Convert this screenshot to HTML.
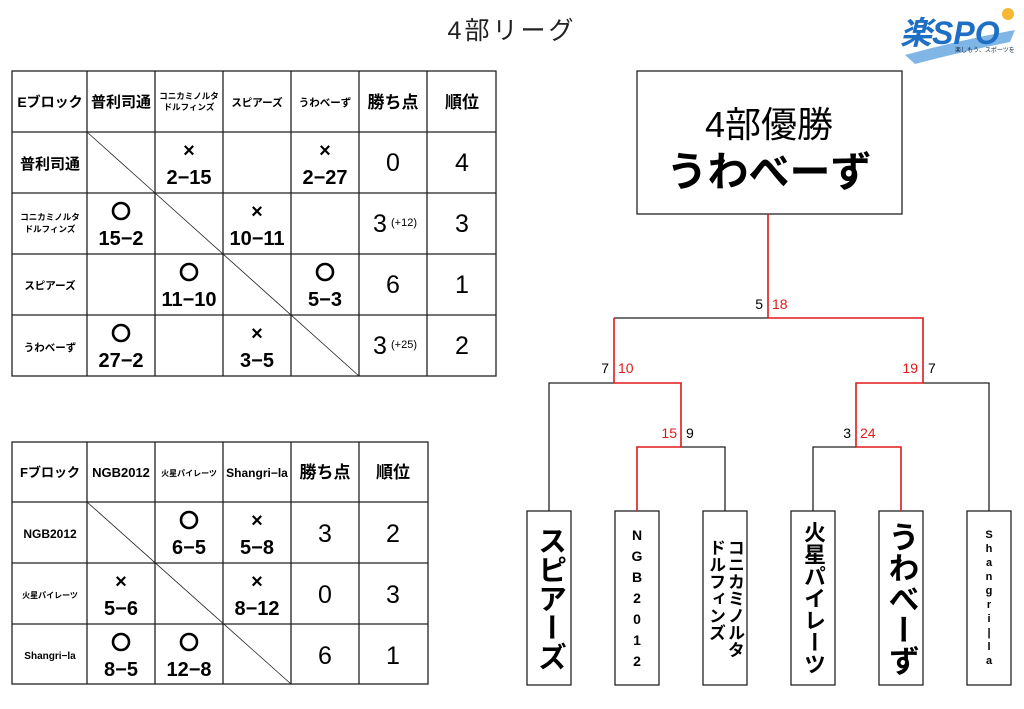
<!DOCTYPE html>
<html><head><meta charset="utf-8"><style>
body{margin:0;background:#fff;width:1024px;height:709px;overflow:hidden;position:relative;font-family:"Liberation Sans","Noto Sans CJK JP",sans-serif;}
.v{position:absolute;writing-mode:vertical-rl;text-orientation:upright;display:flex;align-items:center;justify-content:center;color:#000;white-space:nowrap;line-height:1;}
.c{position:absolute;display:flex;flex-direction:column;align-items:center;justify-content:center;font-weight:bold;color:#000;}
.c span{display:block;}
</style></head><body>
<svg width="1024" height="709" style="position:absolute;left:0;top:0" font-family="Liberation Sans, Noto Sans CJK JP, sans-serif">
<text x="512" y="39" text-anchor="middle" font-size="25" fill="#222" letter-spacing="3">4部リーグ</text>
<!-- logo -->
<path d="M905 55 Q960 40 1015 30 L1010 42 Q960 52 915 64 Z" fill="#7fb6e6"/>
<text x="900" y="44" font-size="32" font-weight="bold" fill="#1f6fc4" font-style="italic">楽SPO</text>
<circle cx="1008" cy="14" r="6" fill="#f6b733"/>
<text x="955" y="52" font-size="6" fill="#123">楽しもう、スポーツを</text>

<g stroke="#222" stroke-width="1.3" fill="none">
<rect x="12" y="71" width="484" height="305"/>
<path d="M87 71V376M155 71V376M223 71V376M291 71V376M359 71V376M427 71V376"/>
<path d="M12 132H496M12 193H496M12 254H496M12 315H496"/>
<path d="M87 132L359 376" stroke-width="0.8"/>
<rect x="12" y="442" width="416" height="242"/>
<path d="M87 442V684M155 442V684M223 442V684M291 442V684M359 442V684"/>
<path d="M12 502H428M12 563H428M12 624H428"/>
<path d="M87 502L291 684" stroke-width="0.8"/>
<rect x="637" y="71" width="265" height="143"/>
<rect x="527" y="511" width="44" height="174"/>
<rect x="615" y="511" width="44" height="174"/>
<rect x="703" y="511" width="44" height="174"/>
<rect x="791" y="511" width="44" height="174"/>
<rect x="879" y="511" width="44" height="174"/>
<rect x="967" y="511" width="44" height="174"/>
<path d="M614 318H768M549 511V383H614M681 447H725V511M813 511V447H856M923 383H989V511"/>
</g>
<g stroke="#000" stroke-width="2.6" fill="none">
<circle cx="121" cy="211" r="8"/><circle cx="189" cy="272" r="8"/><circle cx="325" cy="272" r="8"/><circle cx="121" cy="333" r="8"/>
<circle cx="189" cy="520" r="8"/><circle cx="121" cy="642" r="8"/><circle cx="189" cy="642" r="8"/>
</g>
<g stroke="#e01818" stroke-width="1.6" fill="none">
<path d="M768 214V318H923V383H856V447H901V511"/>
<path d="M614 318V383H681V447H637V511"/>
</g>
<g font-size="14">
<text x="763" y="309" text-anchor="end">5</text><text x="772" y="309" fill="#e01818">18</text>
<text x="609" y="373" text-anchor="end">7</text><text x="618" y="373" fill="#e01818">10</text>
<text x="918" y="373" text-anchor="end" fill="#e01818">19</text><text x="928" y="373">7</text>
<text x="677" y="438" text-anchor="end" fill="#e01818">15</text><text x="686" y="438">9</text>
<text x="851" y="438" text-anchor="end">3</text><text x="860" y="438" fill="#e01818">24</text>
</g>
<text x="769" y="137" text-anchor="middle" font-size="36">4部優勝</text>
<text x="769" y="186" text-anchor="middle" font-size="41" font-weight="bold">うわべーず</text>

<g font-weight="bold" text-anchor="middle">
<text x="50" y="107" font-size="14">Eブロック</text>
<text x="121" y="107" font-size="15">普利司通</text>
<text x="189" y="99" font-size="8.5">コニカミノルタ</text><text x="189" y="110" font-size="8.5">ドルフィンズ</text>
<text x="257" y="106" font-size="10.5">スピアーズ</text>
<text x="325" y="106" font-size="10.5">うわべーず</text>
<text x="393" y="108" font-size="17">勝ち点</text>
<text x="462" y="108" font-size="17">順位</text>
<text x="50" y="169" font-size="15">普利司通</text>
<text x="50" y="220" font-size="8.5">コニカミノルタ</text><text x="50" y="232" font-size="8.5">ドルフィンズ</text>
<text x="50" y="289" font-size="10.5">スピアーズ</text>
<text x="50" y="351" font-size="10.5">うわべーず</text>
<g font-size="20">
<text x="189" y="157">×</text><text x="189" y="184">2−15</text>
<text x="325" y="157">×</text><text x="325" y="184">2−27</text>
<text x="121" y="245">15−2</text>
<text x="257" y="218">×</text><text x="257" y="245">10−11</text>
<text x="189" y="306">11−10</text>
<text x="325" y="306">5−3</text>
<text x="121" y="367">27−2</text>
<text x="257" y="340">×</text><text x="257" y="367">3−5</text>
</g>
</g>
<g font-size="25" text-anchor="middle">
<text x="393" y="171">0</text><text x="462" y="171">4</text>
<text x="380" y="232">3</text><text x="404" y="226" font-size="11">(+12)</text><text x="462" y="232">3</text>
<text x="393" y="293">6</text><text x="462" y="293">1</text>
<text x="380" y="354">3</text><text x="404" y="348" font-size="11">(+25)</text><text x="462" y="354">2</text>
</g>
<g font-weight="bold" text-anchor="middle">
<text x="50" y="477" font-size="13">Fブロック</text>
<text x="121" y="477" font-size="13">NGB2012</text>
<text x="189" y="476" font-size="8">火星パイレーツ</text>
<text x="257" y="477" font-size="12">Shangri−la</text>
<text x="325" y="478" font-size="17">勝ち点</text>
<text x="393" y="478" font-size="17">順位</text>
<text x="50" y="538" font-size="12">NGB2012</text>
<text x="50" y="598" font-size="8">火星パイレーツ</text>
<text x="50" y="659" font-size="10">Shangri−la</text>
<g font-size="20">
<text x="189" y="554">6−5</text>
<text x="257" y="527">×</text><text x="257" y="554">5−8</text>
<text x="121" y="588">×</text><text x="121" y="615">5−6</text>
<text x="257" y="588">×</text><text x="257" y="615">8−12</text>
<text x="121" y="676">8−5</text>
<text x="189" y="676">12−8</text>
</g>
</g>
<g font-size="25" text-anchor="middle">
<text x="325" y="542">3</text><text x="393" y="542">2</text>
<text x="325" y="603">0</text><text x="393" y="603">3</text>
<text x="325" y="664">6</text><text x="393" y="664">1</text>
</g>
</svg>
<div class="v" style="left:527px;top:511px;width:44px;height:174px;font-size:29px;font-weight:bold;">スピアーズ</div>
<div class="c" style="left:615px;top:511px;width:44px;height:174px;font-size:14px;line-height:21px;"><span>N</span><span>G</span><span>B</span><span>2</span><span>0</span><span>1</span><span>2</span></div>
<div class="v" style="left:703px;top:511px;width:44px;height:174px;font-size:17px;font-weight:bold;line-height:19px;white-space:normal;">コニカミノルタ<br>ドルフィンズ</div>
<div class="v" style="left:791px;top:511px;width:44px;height:174px;font-size:22px;font-weight:bold;">火星パイレーツ</div>
<div class="v" style="left:879px;top:511px;width:44px;height:174px;font-size:31px;font-weight:bold;">うわべーず</div>
<div class="c" style="left:967px;top:511px;width:44px;height:174px;font-size:11px;line-height:14px;"><span>S</span><span>h</span><span>a</span><span>n</span><span>g</span><span>r</span><span>i</span><span>|</span><span>l</span><span>a</span></div>
</body></html>
